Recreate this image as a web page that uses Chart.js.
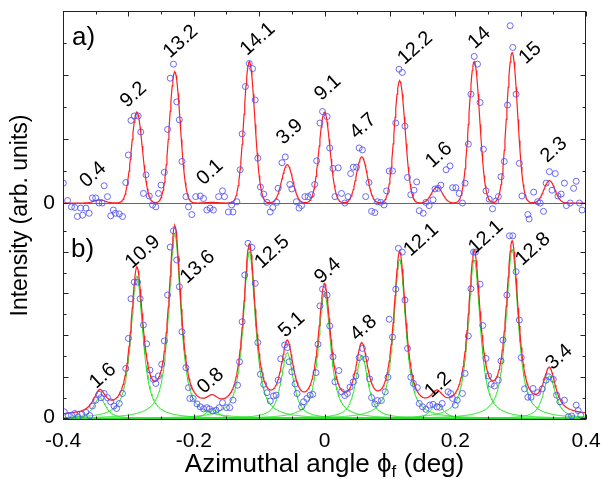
<!DOCTYPE html>
<html>
<head>
<meta charset="utf-8">
<script src="https://cdn.jsdelivr.net/npm/chart.js@4.4.1/dist/chart.umd.min.js"></script>
<style>
  body { margin: 0; background: #fff; }
  canvas { display: block; }
</style>
</head>
<body>
<canvas id="chart" width="601" height="479"></canvas>
<script>
// measured points, panel a)
const angleA = [-0.3995,-0.393,-0.387,-0.382,-0.378,-0.373,-0.370,-0.365,-0.360,-0.355,
  -0.350,-0.345,-0.340,-0.337,-0.332,-0.327,-0.323,-0.320,-0.314,-0.309,
  -0.304,-0.300,-0.296,-0.291,-0.285,-0.281,-0.277,-0.273,-0.268,-0.263,
  -0.258,-0.254,-0.250,-0.245,-0.240,-0.236,-0.231,-0.226,-0.222,-0.218,
  -0.212,-0.208,-0.203,
  -0.197,-0.190,-0.185,-0.180,-0.175,-0.170,-0.162,-0.156,-0.153,-0.147,
  -0.142,-0.140,-0.134,-0.129,-0.126,-0.121,-0.115,-0.110,-0.106,-0.102,
  -0.098,-0.093,-0.088,-0.083,-0.079,-0.073,-0.071,-0.065,-0.060,-0.053,
  -0.050,-0.043,-0.039,-0.035,-0.030,-0.025,-0.020,-0.015,-0.012,-0.007,
  -0.003,
  0.004,0.008,0.013,0.016,0.021,0.026,0.031,0.036,0.040,0.044,
  0.049,0.053,0.058,0.063,0.068,0.072,0.077,0.081,0.086,0.091,
  0.095,0.099,0.104,0.109,0.114,0.119,0.123,0.127,0.132,0.137,
  0.141,0.145,0.151,0.155,0.160,0.166,0.169,0.174,0.178,0.186,
  0.192,0.196,
  0.201,0.206,0.211,0.215,0.220,0.224,0.229,0.234,0.238,0.243,
  0.247,0.252,0.257,0.262,0.266,0.270,0.275,0.280,0.284,0.288,
  0.293,0.298,0.302,0.311,0.313,0.320,0.326,0.330,0.335,0.339,
  0.344,0.348,0.353,0.357,0.362,0.367,0.370,0.376,0.381,0.385,
  0.390,0.394];
const intensityA = [0.31,0.04,-0.06,-0.07,-0.21,-0.08,-0.19,-0.08,-0.16,0.08,
  0.08,0.00,0.00,0.27,0.10,-0.20,-0.11,-0.16,-0.17,-0.21,
  0.32,0.75,1.29,1.36,1.36,1.11,0.15,0.44,0.11,-0.03,
  -0.06,0.15,0.28,0.48,1.15,1.95,2.17,1.58,1.30,0.65,
  0.10,-0.06,-0.18,
  0.10,0.11,0.07,-0.11,-0.08,-0.11,0.10,0.19,0.10,-0.14,
  -0.03,-0.14,0.02,0.52,1.08,1.82,2.18,2.10,1.61,0.70,
  0.25,0.14,0.01,-0.14,-0.07,0.01,0.23,0.63,0.72,0.29,
  0.22,0.02,-0.08,-0.04,0.10,0.10,0.13,0.29,0.66,1.25,
  1.43,
  1.35,0.86,0.54,0.10,0.55,0.15,0.00,0.10,0.46,0.56,
  0.56,0.86,0.83,0.10,0.32,-0.13,-0.15,0.02,0.01,-0.03,
  0.19,0.50,0.50,1.25,2.09,2.04,1.20,0.40,0.13,0.20,
  0.33,-0.12,-0.16,0.01,-0.04,0.05,0.22,0.23,0.28,0.52,
  0.58,0.24,
  0.24,0.15,0.00,0.31,0.92,1.70,2.29,2.17,1.57,0.84,
  0.19,0.06,-0.09,0.03,0.10,0.41,0.65,1.53,2.77,2.43,
  1.70,0.62,0.11,-0.18,-0.25,0.17,0.02,0.00,-0.13,0.31,
  0.49,0.20,0.46,0.11,0.14,0.31,-0.04,0.00,0.23,0.34,
  0.00,-0.11];

// measured points, panel b)
const angleB = [-0.398,-0.392,-0.387,-0.382,-0.377,-0.371,-0.365,-0.359,-0.355,-0.350,
  -0.345,-0.342,-0.337,-0.332,-0.327,-0.322,-0.318,-0.314,-0.309,-0.304,
  -0.300,-0.296,-0.291,-0.286,-0.282,-0.277,-0.272,-0.267,-0.262,-0.258,
  -0.254,-0.249,-0.245,-0.240,-0.236,-0.231,-0.226,-0.222,-0.218,-0.212,
  -0.208,-0.206,
  -0.201,-0.195,-0.190,-0.185,-0.180,-0.176,-0.171,-0.166,-0.161,-0.156,
  -0.150,-0.145,-0.140,-0.133,-0.130,-0.126,-0.122,-0.117,-0.111,-0.106,
  -0.102,-0.098,-0.093,-0.088,-0.083,-0.078,-0.074,-0.071,-0.067,-0.061,
  -0.057,-0.054,-0.050,-0.045,-0.042,-0.035,-0.032,-0.027,-0.022,-0.018,
  -0.013,-0.010,-0.007,-0.003,
  0.004,0.008,0.013,0.016,0.022,0.026,0.031,0.035,0.039,0.044,
  0.048,0.053,0.058,0.063,0.069,0.072,0.077,0.081,0.087,0.093,
  0.097,0.099,0.104,0.109,0.113,0.119,0.123,0.127,0.132,0.136,
  0.142,0.145,0.150,0.155,0.161,0.166,0.172,0.176,0.180,0.189,
  0.193,
  0.196,0.200,0.203,0.211,0.215,0.220,0.224,0.228,0.231,0.238,
  0.242,0.247,0.251,0.255,0.260,0.266,0.270,0.273,0.279,0.283,
  0.288,0.293,0.298,0.301,0.306,0.311,0.316,0.319,0.326,0.333,
  0.339,0.343,0.350,0.355,0.360,0.367,0.373,0.378,0.385,0.388,
  0.392];
const intensityB = [0.16,0.07,0.08,0.12,0.04,0.10,0.15,0.07,0.30,0.44,
  0.58,0.50,0.60,0.50,0.40,0.30,0.24,0.36,0.60,1.20,
  1.92,2.87,3.27,3.27,2.87,2.24,1.79,1.16,0.94,0.84,
  1.02,1.30,1.86,2.96,4.11,4.50,3.80,3.16,2.08,1.22,
  0.74,0.48,
  0.48,0.35,0.28,0.23,0.26,0.23,0.18,0.20,0.26,0.38,
  0.26,0.26,0.44,0.80,1.36,2.32,3.44,4.20,4.10,3.24,
  1.82,1.06,0.82,0.62,0.42,0.54,0.56,0.92,1.43,1.76,
  1.70,1.36,1.12,0.83,0.60,0.28,0.40,0.48,0.56,0.58,
  1.10,1.78,2.70,3.10,
  2.96,2.22,1.48,0.88,1.15,0.64,0.55,0.60,0.75,0.88,
  1.02,1.46,1.68,1.43,0.95,0.50,0.35,0.43,0.43,0.64,
  0.99,2.38,1.95,3.10,4.08,3.99,2.84,1.68,0.99,0.84,
  0.74,0.36,0.28,0.22,0.32,0.34,0.28,0.27,0.36,0.64,
  0.60,
  0.48,0.32,0.44,0.60,1.08,1.98,3.11,3.99,3.99,3.22,
  2.23,1.44,1.02,0.82,0.78,0.92,1.38,1.88,2.96,4.38,
  4.38,3.52,2.36,1.46,0.71,0.51,0.51,0.72,0.62,0.71,
  0.92,1.00,0.94,0.56,0.40,0.44,0.04,0.06,0.32,0.19,
  0.08];

// fitted peaks (same positions in both panels)
const peakPos = [-0.344,-0.287,-0.229,-0.172,-0.115,-0.057,0,0.057,0.115,0.172,0.229,0.287,0.344];
const peakHeightA = [0.05,1.42,2.05,0.01,2.21,0.60,1.42,0.72,1.91,0.25,2.21,2.35,0.35];
const peakHeightB = [0.50,3.42,4.42,0.22,4.00,1.58,3.02,1.52,3.82,0.35,3.80,4.05,1.02];
const peakLabelsA = ['0.4','9.2','13.2','0.1','14.1','3.9','9.1','4.7','12.2','1.6','14','15','2.3'];
const peakLabelsB = ['1.6','10.9','13.6','0.8','12.5','5.1','9.4','4.8','12.1','1.2','12.1','12.8','3.4'];
const xTickValues = [-0.4, -0.2, 0, 0.2, 0.4];

// fit shape parameters
const sigmaA = 0.0083;                 // gaussian width, panel a
const gammaB = 0.011, etaB = 0.8;      // pseudo-voigt, panel b
const backgroundB = 0.05;

const FONT = "'Liberation Sans', Arial, sans-serif";
const BLUE = 'rgba(80,80,250,0.85)';
const RED = 'rgb(255,30,30)';
const GREEN = 'rgb(40,225,40)';

// where the peak numbers sit, in data units
const labelSpotA = [[-0.354,0.44],[-0.292,1.69],[-0.220,2.52],[-0.175,0.48],[-0.102,2.56],[-0.053,1.11],
  [0.005,1.80],[0.059,1.20],[0.139,2.42],[0.175,0.75],[0.237,2.58],[0.315,2.34],[0.351,0.83]];
const labelSpotB = [[-0.339,1.02],[-0.278,3.99],[-0.194,3.63],[-0.174,0.90],[-0.080,3.99],[-0.050,2.25],
  [0.005,3.54],[0.060,2.17],[0.148,4.28],[0.174,0.80],[0.247,4.35],[0.319,4.06],[0.359,1.47]];

const xs = [];
for (let i = 0; i <= 800; i++) xs.push(-0.4 + i * 0.001);

const gaussA = (x, i) => peakHeightA[i] * Math.exp(-Math.pow(x - peakPos[i], 2) / (2 * sigmaA * sigmaA));
const voigtB = (x, i) => {
  const u = (x - peakPos[i]) / gammaB;
  return peakHeightB[i] * (etaB / (1 + u * u) + (1 - etaB) * Math.exp(-Math.LN2 * u * u));
};

const fitA = xs.map(x => ({ x, y: peakPos.reduce((s, _, i) => s + gaussA(x, i), 0) }));
const fitB = xs.map(x => ({ x, y: backgroundB + peakPos.reduce((s, _, i) => s + voigtB(x, i), 0) }));

const pointSet = (xv, yv, axis) => ({
  data: xv.map((x, i) => ({ x, y: yv[i] })),
  yAxisID: axis,
  showLine: false,
  pointRadius: 3,
  pointBorderWidth: 1,
  pointBorderColor: BLUE,
  pointBackgroundColor: 'rgba(0,0,0,0)',
  order: 0
});
const lineSet = (data, axis, color, width, order) => ({
  data, yAxisID: axis, showLine: true, pointRadius: 0,
  borderColor: color, borderWidth: width, tension: 0, order
});

const datasets = [
  pointSet(angleA, intensityA, 'yA'),
  pointSet(angleB, intensityB, 'yB'),
  lineSet(fitA, 'yA', RED, 1.2, 1),
  lineSet(fitB, 'yB', RED, 1.2, 1)
];
peakPos.forEach((_, i) => {
  datasets.push(lineSet(xs.map(x => ({ x, y: voigtB(x, i) })), 'yB', GREEN, 1, 2));
});

const framePlugin = {
  id: 'frame',
  beforeDatasetsDraw(chart) {
    const { ctx, chartArea: a } = chart;
    const y0 = Math.round(chart.scales.yA.getPixelForValue(0)) + 0.5;
    ctx.save();
    ctx.strokeStyle = '#666';
    ctx.lineWidth = 1;
    ctx.beginPath();
    ctx.moveTo(a.left, y0);
    ctx.lineTo(a.right, y0);
    ctx.stroke();
    ctx.restore();
  },
  afterDatasetsDraw(chart) {
    const { ctx, chartArea: a } = chart;
    const sx = chart.scales.x, sa = chart.scales.yA, sb = chart.scales.yB;
    ctx.save();
    ctx.strokeStyle = '#222';
    ctx.lineWidth = 1;
    const L = Math.round(a.left) + 0.5, R = Math.round(a.right) - 0.5;
    const T = Math.round(a.top) + 0.5, B = Math.round(a.bottom) - 0.5;
    ctx.strokeRect(L, T, R - L, B - T);

    ctx.beginPath();
    for (let k = -8; k <= 8; k++) {
      const p = Math.round(sx.getPixelForValue(k * 0.05)) + 0.5;
      const len = k % 2 === 0 ? 5 : 3;
      ctx.moveTo(p, B); ctx.lineTo(p, B - len);
      ctx.moveTo(p, T); ctx.lineTo(p, T + len);
    }
    const yTicks = (scale, n) => {
      for (let k = 0; k <= n; k++) {
        const p = Math.round(scale.getPixelForValue(k * 0.5)) + 0.5;
        const len = k % 2 === 0 ? 5 : 3;
        ctx.moveTo(L, p); ctx.lineTo(L + len, p);
        ctx.moveTo(R, p); ctx.lineTo(R - len, p);
      }
    };
    yTicks(sa, 6);
    yTicks(sb, 9);
    ctx.stroke();

    ctx.fillStyle = '#000';
    ctx.font = '21px ' + FONT;
    ctx.textAlign = 'right';
    ctx.textBaseline = 'middle';
    ctx.fillText('0', a.left - 8, sa.getPixelForValue(0));
    ctx.fillText('0', a.left - 8, sb.getPixelForValue(0) - 1);

    ctx.font = '26px ' + FONT;
    ctx.textAlign = 'left';
    ctx.textBaseline = 'alphabetic';
    ctx.fillText('a)', a.left + 9, 45);
    ctx.fillText('b)', a.left + 8, 257);

    ctx.font = '20px ' + FONT;
    ctx.textAlign = 'center';
    ctx.textBaseline = 'middle';
    const drawLabels = (labels, spots, scale) => {
      labels.forEach((t, i) => {
        ctx.save();
        ctx.translate(sx.getPixelForValue(spots[i][0]), scale.getPixelForValue(spots[i][1]));
        ctx.rotate(-42 * Math.PI / 180);
        ctx.fillText(t, 0, 0);
        ctx.restore();
      });
    };
    drawLabels(peakLabelsA, labelSpotA, sa);
    drawLabels(peakLabelsB, labelSpotB, sb);

    // x axis title with subscript f
    const big = '26px ' + FONT, small = '17px ' + FONT;
    const p1 = 'Azimuthal angle \u03D5', p2 = 'f', p3 = ' (deg)';
    ctx.font = big; const w1 = ctx.measureText(p1).width, w3 = ctx.measureText(p3).width;
    ctx.font = small; const w2 = ctx.measureText(p2).width;
    let x = (a.left + a.right) / 2 - (w1 + w2 + w3) / 2;
    const base = 472;
    ctx.textAlign = 'left';
    ctx.textBaseline = 'alphabetic';
    ctx.font = big; ctx.fillText(p1, x, base); x += w1;
    ctx.font = small; ctx.fillText(p2, x, base + 5); x += w2;
    ctx.font = big; ctx.fillText(p3, x, base);
    ctx.restore();
  }
};

new Chart(document.getElementById('chart').getContext('2d'), {
  type: 'scatter',
  data: { datasets },
  options: {
    responsive: false,
    animation: false,
    layout: { padding: { top: 11, right: 15, left: 0, bottom: 0 } },
    plugins: { legend: { display: false }, tooltip: { enabled: false } },
    scales: {
      x: {
        type: 'linear', position: 'bottom', min: -0.4, max: 0.4,
        afterBuildTicks: s => { s.ticks = xTickValues.map(v => ({ value: v })); },
        afterFit: s => { s.height = 59; s.paddingLeft = 0; s.paddingRight = 0; },
        ticks: {
          color: '#000', padding: 9, maxRotation: 0,
          font: { family: FONT, size: 21 },
          callback: v => (v === 0 ? '0' : v.toFixed(1))
        },
        grid: { display: false, drawTicks: false },
        border: { display: false }
      },
      yA: {
        type: 'linear', position: 'left', min: -3.39, max: 3.0,
        afterFit: s => { s.width = 63; s.paddingTop = 0; s.paddingBottom = 0; },
        ticks: { display: false },
        grid: { display: false, drawTicks: false },
        border: { display: false },
        title: {
          display: true, text: 'Intensity (arb. units)', color: '#000',
          font: { family: FONT, size: 23 }, padding: { top: 7, bottom: 0 }
        }
      },
      yB: {
        type: 'linear', position: 'left', min: -0.036, max: 9.77, display: false
      }
    }
  },
  plugins: [framePlugin]
});
</script>
</body>
</html>
